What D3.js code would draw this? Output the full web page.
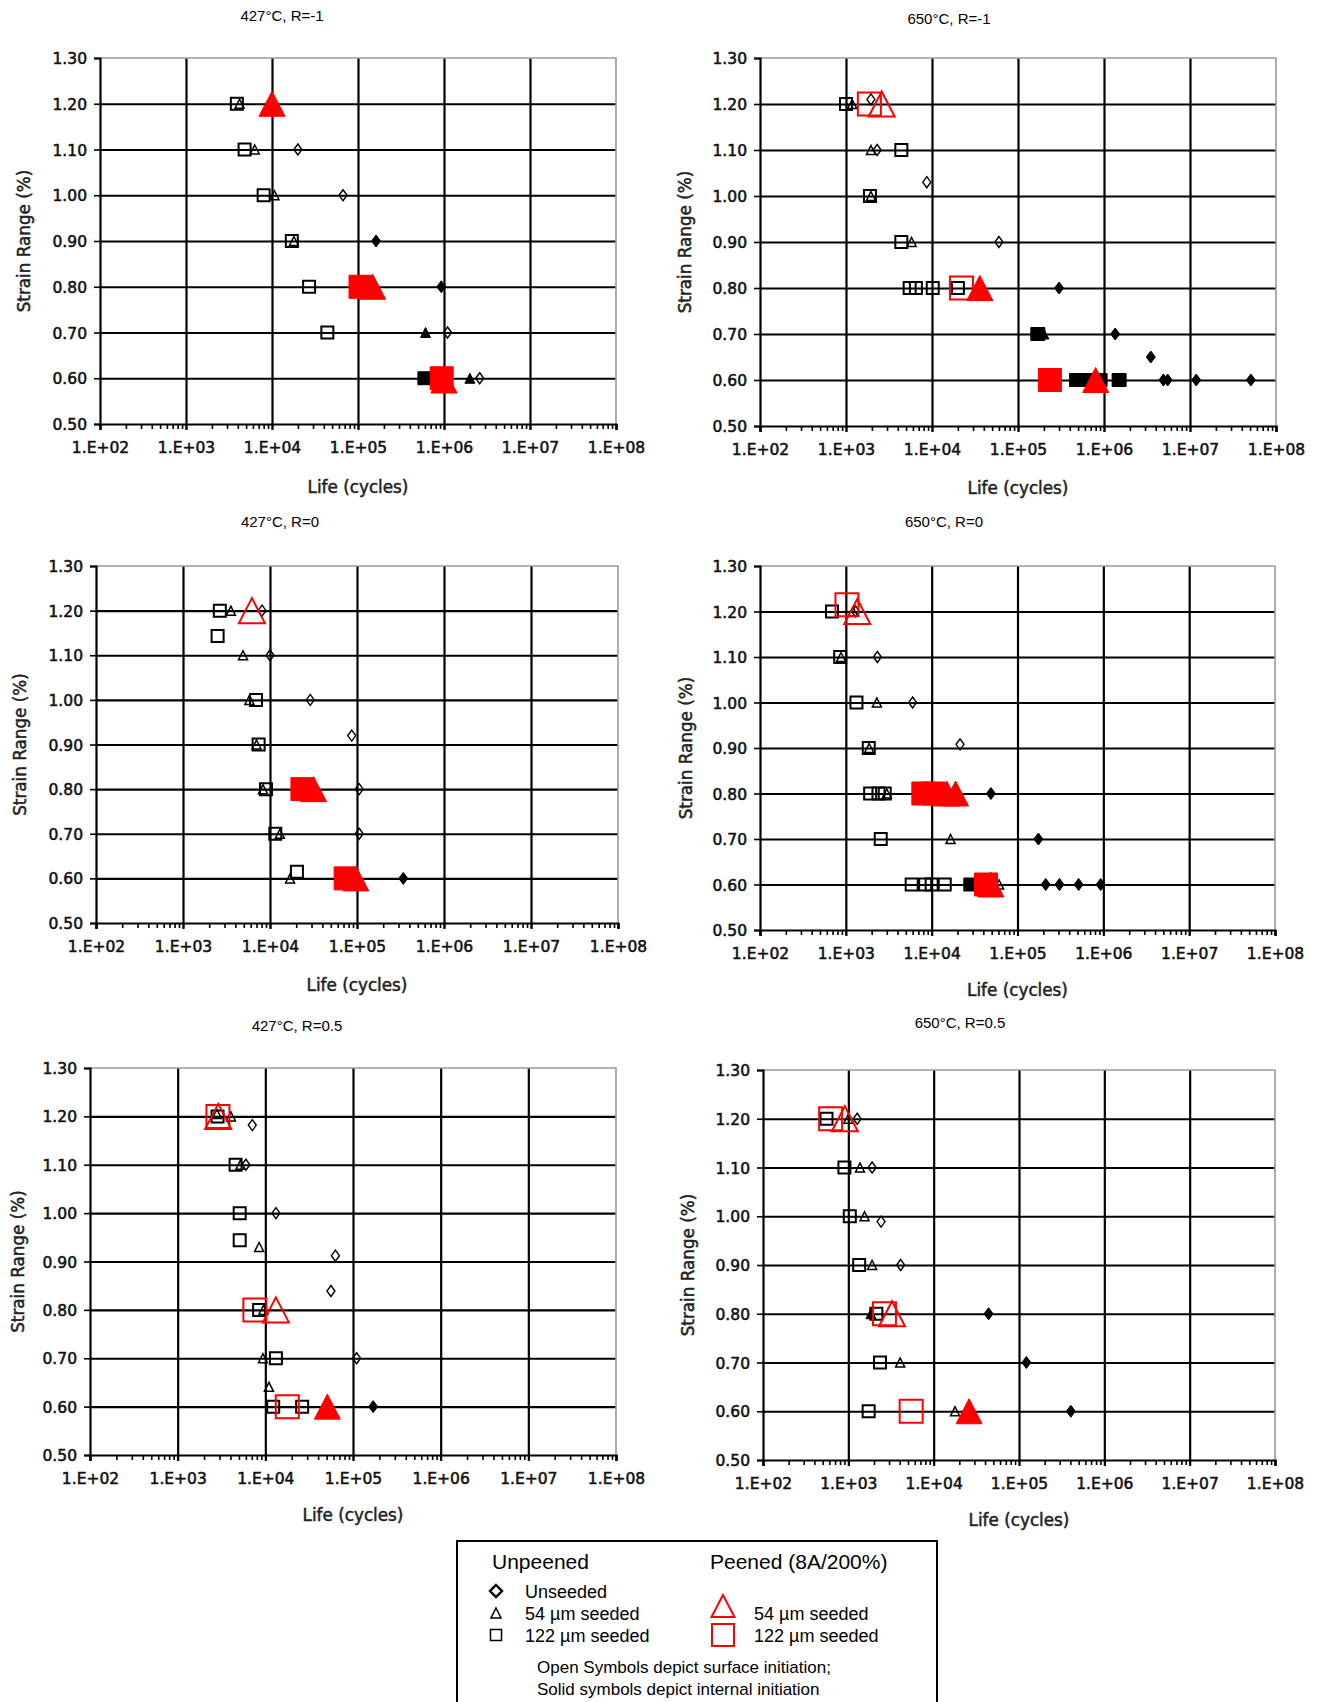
<!DOCTYPE html>
<html>
<head>
<meta charset="utf-8">
<script src="https://cdn.jsdelivr.net/npm/d3@7"></script>
<style>
body { margin: 0; background: #fff; }
.tick text { font-family: "DejaVu Sans", Verdana, sans-serif; font-size: 15.5px; fill: #111; stroke: #111; stroke-width: 0.55px; }
.ptitle { font-family: "Liberation Sans", Arial, sans-serif; font-size: 15px; fill: #000; }
.atitle { font-family: "DejaVu Sans", Verdana, sans-serif; font-size: 16.8px; fill: #222; stroke: #222; stroke-width: 0.5px; }
.leg { font-family: "Liberation Sans", Arial, sans-serif; fill: #000; }
</style>
</head>
<body>
<script>
const W = 1325, H = 1702;

// panel titles and axes
const panelTitles = ["427°C, R=-1", "650°C, R=-1", "427°C, R=0", "650°C, R=0", "427°C, R=0.5", "650°C, R=0.5"];
const xTicks = [1e2, 1e3, 1e4, 1e5, 1e6, 1e7, 1e8];
const xTickLabels = ["1.E+02", "1.E+03", "1.E+04", "1.E+05", "1.E+06", "1.E+07", "1.E+08"];
const yTicks = [0.5, 0.6, 0.7, 0.8, 0.9, 1.0, 1.1, 1.2, 1.3];

// symbol codes: UD unseeded diamond, U54 / U122 unpeened seeded, P54 / P122 peened;
// trailing "s" = solid symbol (internal initiation)
// [life (cycles), strain range (%), symbol]
const t427Rm1 = [
  [3900, 1.20, "U122"], [4200, 1.20, "U54"], [10000, 1.20, "P54s"],
  [4800, 1.10, "U122"], [6300, 1.10, "U54"], [20000, 1.10, "UD"],
  [8000, 1.00, "U122"], [10700, 1.00, "U54"], [67000, 1.00, "UD"],
  [17000, 0.90, "U122"], [18000, 0.90, "U54"], [162000, 0.90, "UDs"],
  [27000, 0.80, "U122"], [107000, 0.80, "P122s"], [148000, 0.80, "P54s"], [930000, 0.80, "UDs"],
  [44000, 0.70, "U122"], [610000, 0.70, "U54s"], [1100000, 0.70, "UD"],
  [600000, 0.60, "U122s"], [940000, 0.60, "P122s"], [1000000, 0.595, "P54s"], [2000000, 0.60, "U54s"], [2600000, 0.60, "UD"]
];
const t650Rm1 = [
  [1000, 1.20, "U122"], [1180, 1.20, "U54"], [1870, 1.20, "P122"], [1950, 1.21, "UD"], [2600, 1.20, "P54"],
  [1950, 1.10, "U54"], [2300, 1.10, "UD"], [4400, 1.10, "U122"],
  [8700, 1.03, "UD"],
  [1900, 1.00, "U122"], [1950, 1.00, "U54"],
  [4400, 0.90, "U122"], [5800, 0.90, "U54"], [60000, 0.90, "UD"],
  [5500, 0.80, "U122"], [6500, 0.80, "U122"], [10200, 0.80, "U122"], [20000, 0.80, "U122"], [22000, 0.80, "P122"],
  [36000, 0.80, "P54s"], [300000, 0.80, "UDs"],
  [170000, 0.70, "U122s"], [200000, 0.70, "U54s"], [1350000, 0.70, "UDs"],
  [3500000, 0.65, "UDs"],
  [235000, 0.60, "P122s"], [480000, 0.60, "U122s"], [600000, 0.60, "U122s"], [900000, 0.60, "U122s"], [800000, 0.60, "P54s"],
  [1500000, 0.60, "U122s"], [4900000, 0.60, "UDs"], [5500000, 0.60, "UDs"], [11800000, 0.60, "UDs"], [51000000, 0.60, "UDs"]
];
const t427R0 = [
  [2650, 1.20, "U122"], [3550, 1.20, "U54"], [6200, 1.20, "P54"], [8100, 1.20, "UD"],
  [2500, 1.143, "U122"],
  [4900, 1.10, "U54"], [10000, 1.10, "UD"],
  [5800, 1.00, "U54"], [6900, 1.00, "U122"], [29000, 1.00, "UD"],
  [87000, 0.92, "UD"],
  [7000, 0.90, "U54"], [7400, 0.90, "U122"],
  [8300, 0.80, "U54"], [9000, 0.80, "U122"], [23600, 0.80, "P122s"], [31700, 0.80, "P54s"], [106000, 0.80, "UD"],
  [11500, 0.70, "U122"], [13000, 0.70, "U54"], [106000, 0.70, "UD"],
  [17000, 0.60, "U54"], [20400, 0.615, "U122"], [74000, 0.60, "P122s"], [97000, 0.60, "P54s"], [340000, 0.60, "UDs"]
];
const t650R0 = [
  [690, 1.20, "U122"], [1030, 1.215, "P122"], [1210, 1.20, "U54"], [1300, 1.20, "UD"], [1360, 1.20, "P54"],
  [860, 1.10, "U122"], [880, 1.10, "U54"], [2330, 1.10, "UD"],
  [1330, 1.00, "U122"], [2300, 1.00, "U54"], [6000, 1.00, "UD"],
  [21400, 0.908, "UD"],
  [1850, 0.90, "U122"], [1870, 0.90, "U54"],
  [1920, 0.80, "U122"], [2400, 0.80, "U122"], [2840, 0.80, "U122"], [3000, 0.80, "U54"],
  [8000, 0.80, "P122s"], [10500, 0.80, "P122s"], [15000, 0.80, "P54s"], [19000, 0.80, "P54s"], [49000, 0.80, "UDs"],
  [2550, 0.70, "U122"], [16600, 0.70, "U54"], [175000, 0.70, "UDs"],
  [5850, 0.60, "U122"], [8400, 0.60, "U122"], [10000, 0.60, "U122"], [14200, 0.60, "U122"], [28600, 0.60, "U122s"],
  [61000, 0.60, "U54"], [43000, 0.60, "P122s"], [49000, 0.60, "P54s"],
  [213000, 0.60, "UDs"], [308000, 0.60, "UDs"], [515000, 0.60, "UDs"], [930000, 0.60, "UDs"]
];
const t427R05 = [
  [2850, 1.20, "U122"], [2800, 1.205, "U54"], [4050, 1.20, "U54"], [2880, 1.20, "P122"], [2900, 1.20, "P54"],
  [7100, 1.182, "UD"],
  [4580, 1.10, "U122"], [5200, 1.10, "U54"], [6000, 1.10, "UD"],
  [5100, 1.00, "U122"], [13200, 1.00, "UD"],
  [5100, 0.944, "U122"],
  [8500, 0.93, "U54"],
  [63000, 0.912, "UD"],
  [56000, 0.839, "UD"],
  [8500, 0.80, "U122"], [9500, 0.80, "U54"], [7600, 0.80, "P122"], [13200, 0.80, "P54"],
  [9400, 0.70, "U54"], [13200, 0.70, "U122"], [110000, 0.70, "UD"],
  [11000, 0.641, "U54"],
  [12300, 0.60, "U122"], [26300, 0.60, "U122"], [17800, 0.60, "P122"], [51000, 0.60, "P54s"], [170000, 0.60, "UDs"]
];
const t650R05 = [
  [555, 1.20, "U122"], [1000, 1.20, "U54"], [1270, 1.20, "UD"], [620, 1.20, "P122"], [910, 1.20, "P54"],
  [900, 1.10, "U122"], [1370, 1.10, "U54"], [1900, 1.10, "UD"],
  [1040, 1.00, "U122"], [1550, 1.00, "U54"], [2420, 0.989, "UD"],
  [1340, 0.90, "U122"], [1900, 0.90, "U54"], [4100, 0.90, "UD"],
  [1840, 0.80, "U54s"], [2130, 0.80, "U122"], [2650, 0.80, "P122"], [3250, 0.80, "P54"], [44000, 0.80, "UDs"],
  [2350, 0.70, "U122"], [4050, 0.70, "U54"], [122000, 0.70, "UDs"],
  [1730, 0.60, "U122"], [17800, 0.60, "U54"], [5450, 0.60, "P122"], [26000, 0.60, "P54s"], [405000, 0.60, "UDs"]
];
const panelData = [t427Rm1, t650Rm1, t427R0, t650R0, t427R05, t650R05];

// legend texts
const legendHeads = ["Unpeened", "Peened (8A/200%)"];
const legendUnpeened = [["UD", "Unseeded"], ["U54", "54 µm seeded"], ["U122", "122 µm seeded"]];
const legendPeened = [["P54", "54 µm seeded"], ["P122", "122 µm seeded"]];
const legendNote = ["Open Symbols depict surface initiation;", "Solid symbols depict internal initiation"];

// plot boxes (pixels)
const layout = [
  {l: 100, t: 58, r: 616, b: 424, tx: 282, ty: 21, yx: 24, xy: 493},
  {l: 760, t: 58, r: 1276, b: 426, tx: 949, ty: 24, yx: 685, xy: 494},
  {l: 96, t: 566, r: 618, b: 923, tx: 280, ty: 527, yx: 20, xy: 991},
  {l: 760, t: 566, r: 1275, b: 930, tx: 944, ty: 527, yx: 686, xy: 996},
  {l: 90, t: 1068, r: 616, b: 1455, tx: 297, ty: 1031, yx: 18, xy: 1521},
  {l: 763, t: 1070, r: 1275, b: 1460, tx: 960, ty: 1028, yx: 688, xy: 1526}
];

// marker look per symbol code
const markerStyle = {
  UD:    {shape: "diamond",  w: 8,  h: 11, color: "#000", fill: false, sw: 1.4},
  UDs:   {shape: "diamond",  w: 9,  h: 12, color: "#000", fill: true,  sw: 1},
  U54:   {shape: "triangle", w: 9,  h: 9,  color: "#000", fill: false, sw: 1.5},
  U54s:  {shape: "triangle", w: 10, h: 10, color: "#000", fill: true,  sw: 1},
  U122:  {shape: "square",   w: 12, h: 12, color: "#000", fill: false, sw: 2},
  U122s: {shape: "square",   w: 14, h: 13, color: "#000", fill: true,  sw: 1},
  P54:   {shape: "triangle", w: 26, h: 25, color: "#ff0000", fill: false, sw: 2},
  P54s:  {shape: "triangle", w: 26, h: 25, color: "#ff0000", fill: true,  sw: 1},
  P122:  {shape: "square",   w: 23, h: 23, color: "#ff0000", fill: false, sw: 2},
  P122s: {shape: "square",   w: 23, h: 23, color: "#ff0000", fill: true,  sw: 1}
};

function shapePath(s) {
  const a = s.w / 2, b = s.h / 2;
  if (s.shape === "diamond") return `M0,${-b}L${a},0L0,${b}L${-a},0Z`;
  if (s.shape === "triangle") return `M0,${-b}L${a},${b}L${-a},${b}Z`;
  return `M${-a},${-b}H${a}V${b}H${-a}Z`;
}

const svg = d3.select("body").append("svg")
    .attr("width", W)
    .attr("height", H);

svg.append("rect").attr("width", W).attr("height", H).attr("fill", "#fff");

function drawPanel(i) {
  const L = layout[i];
  const x = d3.scaleLog().domain([1e2, 1e8]).range([L.l, L.r]);
  const y = d3.scaleLinear().domain([0.5, 1.3]).range([L.b, L.t]);
  const g = svg.append("g");
  const ph = L.b - L.t, pw = L.r - L.l;

  // vertical grid at decades
  g.append("g")
      .attr("transform", "translate(0," + L.b + ")")
      .call(d3.axisBottom(x).tickValues(xTicks.slice(1, -1)).tickSize(-ph).tickFormat(""))
      .call(s => s.select(".domain").remove())
      .selectAll("line").attr("stroke", "#000").attr("stroke-width", 2.2);

  // horizontal grid
  g.append("g")
      .attr("transform", "translate(" + L.l + ",0)")
      .call(d3.axisLeft(y).tickValues(yTicks.slice(1, -1)).tickSize(-pw).tickFormat(""))
      .call(s => s.select(".domain").remove())
      .selectAll("line").attr("stroke", "#000").attr("stroke-width", 2.2);

  // top / right border (grey)
  g.append("path")
      .attr("d", `M${L.l},${L.t}H${L.r}V${L.b}`)
      .attr("fill", "none").attr("stroke", "#9a9a9a").attr("stroke-width", 1.6);

  // minor log ticks
  g.append("g")
      .attr("transform", "translate(0," + L.b + ")")
      .call(d3.axisBottom(x).tickValues(x.ticks()).tickSize(5).tickFormat(""))
      .call(s => s.select(".domain").remove())
      .selectAll("line").attr("stroke", "#000").attr("stroke-width", 1.6);

  // x axis
  const xa = g.append("g")
      .attr("transform", "translate(0," + L.b + ")")
      .call(d3.axisBottom(x).tickValues(xTicks).tickSize(6).tickPadding(12)
          .tickFormat((d, j) => xTickLabels[j]));
  xa.select(".domain").attr("stroke", "#000").attr("stroke-width", 2.2);
  xa.selectAll("line").attr("stroke", "#000").attr("stroke-width", 2.2);

  // y axis
  const ya = g.append("g")
      .attr("transform", "translate(" + L.l + ",0)")
      .call(d3.axisLeft(y).tickValues(yTicks).tickSize(6).tickPadding(7).tickFormat(d3.format(".2f")));
  ya.select(".domain").attr("stroke", "#000").attr("stroke-width", 2.2);
  ya.selectAll("line").attr("stroke", "#000").attr("stroke-width", 1.6);
  ya.selectAll("text").attr("dy", "0.36em");

  // titles
  g.append("text").attr("class", "ptitle")
      .attr("x", L.tx).attr("y", L.ty).attr("text-anchor", "middle")
      .text(panelTitles[i]);
  g.append("text").attr("class", "atitle")
      .attr("x", (L.l + L.r) / 2).attr("y", L.xy).attr("text-anchor", "middle")
      .text("Life (cycles)");
  g.append("text").attr("class", "atitle")
      .attr("transform", `translate(${L.yx},${(L.t + L.b) / 2}) rotate(-90)`)
      .attr("text-anchor", "middle").attr("dy", "0.35em")
      .text("Strain Range (%)");

  // points: black first, red on top
  const pts = panelData[i].slice().sort((a, b) => (a[2][0] === "P") - (b[2][0] === "P"));
  g.append("g").selectAll("path")
      .data(pts)
      .enter().append("path")
      .attr("transform", d => `translate(${x(d[0])},${y(d[1])})`)
      .attr("d", d => shapePath(markerStyle[d[2]]))
      .attr("fill", d => markerStyle[d[2]].fill ? markerStyle[d[2]].color : "none")
      .attr("stroke", d => markerStyle[d[2]].color)
      .attr("stroke-width", d => markerStyle[d[2]].sw)
      .attr("stroke-linejoin", "miter");
}

for (let i = 0; i < 6; i++) drawPanel(i);

// legend box
function drawLegend() {
  const g = svg.append("g");
  g.append("path")
      .attr("d", "M457,1712V1541H937V1712")
      .attr("fill", "none").attr("stroke", "#000").attr("stroke-width", 2);

  g.append("text").attr("class", "leg").attr("x", 492).attr("y", 1569)
      .style("font-size", "21px").text(legendHeads[0]);
  g.append("text").attr("class", "leg").attr("x", 710).attr("y", 1569)
      .style("font-size", "21px").text(legendHeads[1]);

  const rowsY = [1598, 1620, 1642];
  const legSym = {
    UD:   {shape: "diamond",  w: 12, h: 12, color: "#000", fill: false, sw: 2.4},
    U54:  {shape: "triangle", w: 10, h: 10, color: "#000", fill: false, sw: 1.5},
    U122: {shape: "square",   w: 11, h: 11, color: "#000", fill: false, sw: 1.5},
    P54:  {shape: "triangle", w: 23, h: 22, color: "#ff0000", fill: false, sw: 2},
    P122: {shape: "square",   w: 22, h: 22, color: "#ff0000", fill: false, sw: 2}
  };
  legendUnpeened.forEach((d, j) => {
    const s = legSym[d[0]];
    g.append("path").attr("transform", `translate(496,${rowsY[j] - 7})`)
        .attr("d", shapePath(s)).attr("fill", "none").attr("stroke", s.color).attr("stroke-width", s.sw);
    g.append("text").attr("class", "leg").attr("x", 525).attr("y", rowsY[j])
        .style("font-size", "18px").text(d[1]);
  });
  const pY = [1606, 1635];
  legendPeened.forEach((d, j) => {
    const s = legSym[d[0]];
    g.append("path").attr("transform", `translate(723,${pY[j]})`)
        .attr("d", shapePath(s)).attr("fill", "none").attr("stroke", s.color).attr("stroke-width", s.sw);
    g.append("text").attr("class", "leg").attr("x", 754).attr("y", rowsY[j + 1])
        .style("font-size", "18px").text(d[1]);
  });
  legendNote.forEach((t, j) => {
    g.append("text").attr("class", "leg").attr("x", 537).attr("y", 1673 + j * 22)
        .style("font-size", "17px").text(t);
  });
}
drawLegend();
</script>
</body>
</html>
